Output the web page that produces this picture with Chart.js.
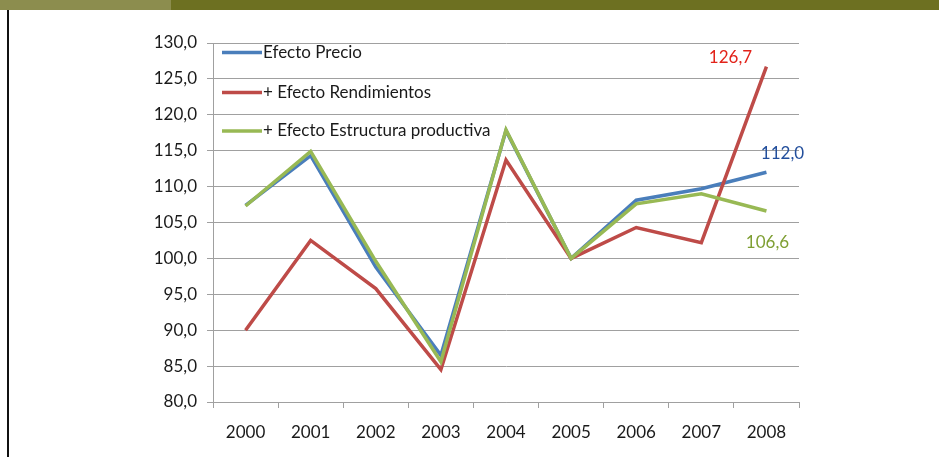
<!DOCTYPE html>
<html>
<head>
<meta charset="utf-8">
<script src="https://cdn.jsdelivr.net/npm/chart.js@4/dist/chart.umd.min.js"></script>
<style>
  html, body { margin: 0; padding: 0; background: #fff; }
  #wrap { position: relative; width: 939px; height: 457px; overflow: hidden; }
  #barL { position: absolute; left: 0; top: 0; width: 171px; height: 10px; background: #8c8d4e; }
  #barR { position: absolute; left: 171px; top: 0; width: 768px; height: 10px; background: #6d7021; }
  #vline { position: absolute; left: 7px; top: 10px; width: 2px; height: 447px; background: #111; }
  #c { position: absolute; left: 0; top: 0; }
</style>
</head>
<body>
<div id="wrap">
  <div id="barL"></div>
  <div id="barR"></div>
  <div id="vline"></div>
  <canvas id="c" width="939" height="457"></canvas>
</div>
<script>
const years = ['2000','2001','2002','2003','2004','2005','2006','2007','2008'];
const efectoPrecio = [107.4, 114.3, 98.8, 86.5, 117.8, 100.0, 108.1, 109.7, 112.0];
const efectoRendimientos = [90.0, 102.5, 95.8, 84.5, 113.7, 100.0, 104.3, 102.2, 126.7];
const efectoEstructura = [107.3, 114.9, 99.6, 85.6, 117.9, 100.0, 107.6, 109.0, 106.6];
const seriesNames = ['Efecto Precio', '+ Efecto Rendimientos', '+ Efecto Estructura productiva'];
const yTicks = { min: 80, max: 130, step: 5 };

const FONT = 'Lato, "Open Sans", sans-serif';
const FS = 17;
const fmt = v => v.toFixed(1).replace('.', ',');

const overlay = {
  id: 'overlay',
  afterDatasetsDraw(chart) {
    const ctx = chart.ctx;
    const ca = chart.chartArea;
    ctx.save();
    // legend inside plot area
    const lx0 = ca.left + 9, lx1 = ca.left + 49;
    const lys = [52.5, 92.5, 131];
    chart.data.datasets.forEach((ds, i) => {
      ctx.strokeStyle = ds.borderColor;
      ctx.lineWidth = 3.5;
      ctx.beginPath();
      ctx.moveTo(lx0, lys[i]);
      ctx.lineTo(lx1, lys[i]);
      ctx.stroke();
      ctx.fillStyle = '#1a1a1a';
      ctx.font = FS + 'px ' + FONT;
      ctx.textAlign = 'left';
      ctx.textBaseline = 'middle';
      ctx.fillText(ds.label, lx1 + 1, lys[i]);
    });
    // end value labels
    const offsets = [
      { dx: 16, dy: -19, color: '#234f9c' },
      { dx: -36, dy: -9, color: '#e2231a' },
      { dx: 1, dy: 32, color: '#7f9f33' }
    ];
    chart.data.datasets.forEach((ds, i) => {
      const meta = chart.getDatasetMeta(i);
      const last = meta.data[meta.data.length - 1];
      const v = ds.data[ds.data.length - 1];
      ctx.fillStyle = offsets[i].color;
      ctx.font = FS + 'px ' + FONT;
      ctx.textAlign = 'center';
      ctx.textBaseline = 'middle';
      ctx.fillText(fmt(v), last.x + offsets[i].dx, last.y + offsets[i].dy);
    });
    ctx.restore();
  }
};

new Chart(document.getElementById('c'), {
  type: 'line',
  data: {
    labels: years,
    datasets: [
      { label: seriesNames[0], data: efectoPrecio, borderColor: '#4a7ebb', order: 3 },
      { label: seriesNames[1], data: efectoRendimientos, borderColor: '#be4b48', order: 2 },
      { label: seriesNames[2], data: efectoEstructura, borderColor: '#98b954', order: 1 }
    ].map(d => Object.assign(d, { borderWidth: 3.5, pointRadius: 0, tension: 0, fill: false, borderJoinStyle: 'miter' }))
  },
  options: {
    responsive: false,
    animation: false,
    layout: { padding: { left: 0, top: 43, right: 140, bottom: 0 } },
    plugins: { legend: { display: false }, tooltip: { enabled: false } },
    scales: {
      x: {
        offset: true,
        grid: { offset: true, drawOnChartArea: false, drawTicks: true, tickLength: 6, color: '#a0a0a0' },
        border: { display: true, color: '#a0a0a0', width: 1 },
        ticks: { color: '#1a1a1a', font: { family: FONT, size: FS }, padding: 14, maxRotation: 0 },
        afterFit(s) { s.height = 55; }
      },
      y: {
        min: yTicks.min, max: yTicks.max,
        grid: { color: '#a0a0a0', tickLength: 6, drawTicks: true },
        border: { display: true, color: '#a0a0a0', width: 1 },
        ticks: { stepSize: yTicks.step, color: '#1a1a1a', font: { family: FONT, size: FS }, padding: 10, callback: v => fmt(v) },
        afterFit(s) { s.width = 213; }
      }
    }
  },
  plugins: [overlay]
});
</script>
</body>
</html>
